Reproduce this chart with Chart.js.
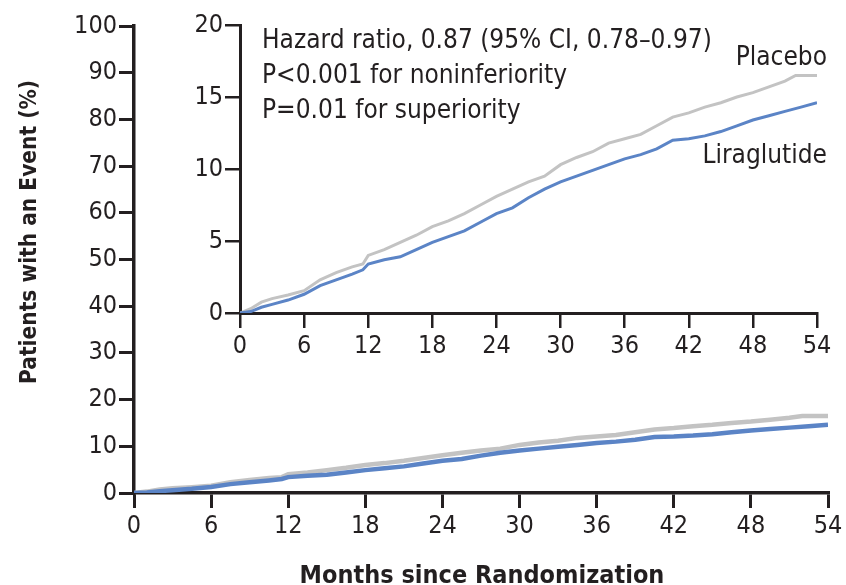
<!DOCTYPE html>
<html>
<head>
<meta charset="utf-8">
<script src="https://cdn.jsdelivr.net/npm/chart.js@4.4.1/dist/chart.umd.min.js"></script>
<style>
  html, body { margin: 0; padding: 0; background: #fff; }
  #wrap { position: relative; width: 846px; height: 585px; }
  #main { position: absolute; left: 0; top: 0; }
  #inset { position: absolute; left: 195px; top: 0; }
</style>
</head>
<body>
<div id="wrap">
  <canvas id="main" width="846" height="585"></canvas>
  <canvas id="inset" width="651" height="360"></canvas>
</div>
<script>
// Cumulative incidence (%) by months since randomization
const placeboMonths = [0, 1, 2, 3, 4.5, 6, 7.5, 9, 10.5, 11.5, 12, 13.5, 15, 16.5, 18, 19.5, 21, 22.5, 24, 25.5, 27, 28.5, 30, 31.5, 33, 34.5, 36, 37.5, 39, 40.5, 42, 43.5, 45, 46.5, 48, 49.5, 51, 52, 53, 54];
const placeboPct    = [0, 0.3, 0.75, 1.0, 1.25, 1.55, 2.3, 2.8, 3.2, 3.4, 4.0, 4.4, 4.9, 5.4, 6.0, 6.4, 6.9, 7.5, 8.1, 8.6, 9.1, 9.5, 10.3, 10.8, 11.2, 11.8, 12.1, 12.4, 13.0, 13.6, 13.9, 14.3, 14.6, 15.0, 15.3, 15.7, 16.1, 16.5, 16.5, 16.5];
const liraMonths    = [0, 1, 2, 3, 4.5, 6, 7.5, 9, 10.5, 11.5, 12, 13.5, 15, 16.5, 18, 19.5, 21, 22.5, 24, 25.5, 27, 28.5, 30, 31.5, 33, 34.5, 36, 37.5, 39, 40.5, 42, 43.5, 45, 46.5, 48, 49.5, 51, 52.5, 54];
const liraPct       = [0, 0.1, 0.4, 0.6, 0.9, 1.3, 1.9, 2.3, 2.7, 3.0, 3.4, 3.7, 3.9, 4.4, 4.9, 5.3, 5.7, 6.3, 6.9, 7.3, 8.0, 8.6, 9.1, 9.5, 9.9, 10.3, 10.7, 11.0, 11.4, 12.0, 12.1, 12.3, 12.6, 13.0, 13.4, 13.7, 14.0, 14.3, 14.6];

const monthTicks = [0, 6, 12, 18, 24, 30, 36, 42, 48, 54];
const mainYTicks = [0, 10, 20, 30, 40, 50, 60, 70, 80, 90, 100];
const insetYTicks = [0, 5, 10, 15, 20];

const seriesNames = ['Placebo', 'Liraglutide'];
const statLines = [
  'Hazard ratio, 0.87 (95% CI, 0.78\u20130.97)',
  'P<0.001 for noninferiority',
  'P=0.01 for superiority'
];
const xTitle = 'Months since Randomization';
const yTitle = 'Patients with an Event (%)';

const INK = '#231f20';
const GREY = '#c3c3c3';
const BLUE = '#5b84c6';
const FONT = '"Liberation Sans Narrow", "DejaVu Sans Condensed", "Liberation Sans", sans-serif';

const toPoints = (xs, ys) => xs.map((x, i) => ({ x, y: ys[i] }));

function datasets(width) {
  return [
    { label: seriesNames[0], data: toPoints(placeboMonths, placeboPct), borderColor: GREY, borderWidth: width, pointRadius: 0, tension: 0, order: 2 },
    { label: seriesNames[1], data: toPoints(liraMonths, liraPct), borderColor: BLUE, borderWidth: width, pointRadius: 0, tension: 0, order: 1 }
  ];
}

function axes(yTicks, yMax, opts) {
  return {
    x: {
      type: 'linear', min: 0, max: 54,
      afterBuildTicks: s => { s.ticks = monthTicks.map(v => ({ value: v })); },
      afterFit: s => { s.height = opts.xHeight; },
      border: { display: true, color: INK, width: opts.axisWidth },
      grid: { display: true, drawOnChartArea: false, drawTicks: true, tickLength: opts.tickLen, color: INK, lineWidth: opts.tickWidth },
      ticks: { color: INK, padding: opts.xPad, maxRotation: 0, font: { family: FONT, size: opts.fontSize } }
    },
    y: {
      type: 'linear', min: 0, max: yMax,
      afterBuildTicks: s => { s.ticks = yTicks.map(v => ({ value: v })); },
      afterFit: s => { s.width = opts.yWidth; },
      border: { display: true, color: INK, width: opts.axisWidth },
      grid: { display: true, drawOnChartArea: false, drawTicks: true, tickLength: opts.tickLen, color: INK, lineWidth: opts.tickWidth },
      ticks: { color: INK, padding: opts.yPad, font: { family: FONT, size: opts.fontSize } }
    }
  };
}

// Axis titles for the full-scale plot
const mainTitles = {
  id: 'mainTitles',
  afterDraw(chart) {
    const ctx = chart.ctx;
    ctx.save();
    ctx.fillStyle = INK;
    ctx.font = 'bold 25px ' + FONT;
    ctx.textAlign = 'center';
    ctx.textBaseline = 'alphabetic';
    ctx.fillText(xTitle, 482, 583);
    ctx.translate(30, 232);
    ctx.rotate(-Math.PI / 2);
    ctx.textBaseline = 'middle';
    ctx.font = 'bold 22.5px ' + FONT;
    ctx.fillText(yTitle, 0, 0);
    ctx.restore();
  }
};

// Statistics and series labels inside the zoomed plot
const insetLabels = {
  id: 'insetLabels',
  afterDraw(chart) {
    const ctx = chart.ctx;
    ctx.save();
    ctx.fillStyle = INK;
    ctx.font = '26px ' + FONT;
    ctx.textBaseline = 'alphabetic';
    ctx.textAlign = 'left';
    const lx = 262 - 195;
    [48, 83, 118].forEach((y, i) => ctx.fillText(statLines[i], lx, y));
    ctx.textAlign = 'right';
    ctx.fillText(seriesNames[0], 827 - 195, 65);
    ctx.fillText(seriesNames[1], 827 - 195, 163);
    ctx.restore();
  }
};

new Chart(document.getElementById('main'), {
  type: 'line',
  data: { datasets: datasets(4.5) },
  options: {
    responsive: false, animation: false, events: [],
    layout: { padding: { left: 0, right: 18, top: 26, bottom: 0 } },
    plugins: { legend: { display: false }, tooltip: { enabled: false } },
    scales: axes(mainYTicks, 100, { xHeight: 92, yWidth: 134, tickLen: 15, tickWidth: 3, axisWidth: 3.5, xPad: 3, yPad: 2, fontSize: 25 })
  },
  plugins: [mainTitles]
});

new Chart(document.getElementById('inset'), {
  type: 'line',
  data: { datasets: datasets(3) },
  options: {
    responsive: false, animation: false, events: [],
    layout: { padding: { left: 0, right: 29, top: 25, bottom: 0 } },
    plugins: { legend: { display: false }, tooltip: { enabled: false } },
    scales: axes(insetYTicks, 20, { xHeight: 47, yWidth: 45, tickLen: 15, tickWidth: 2.5, axisWidth: 3, xPad: 3, yPad: 2, fontSize: 25 })
  },
  plugins: [insetLabels]
});
</script>
</body>
</html>
